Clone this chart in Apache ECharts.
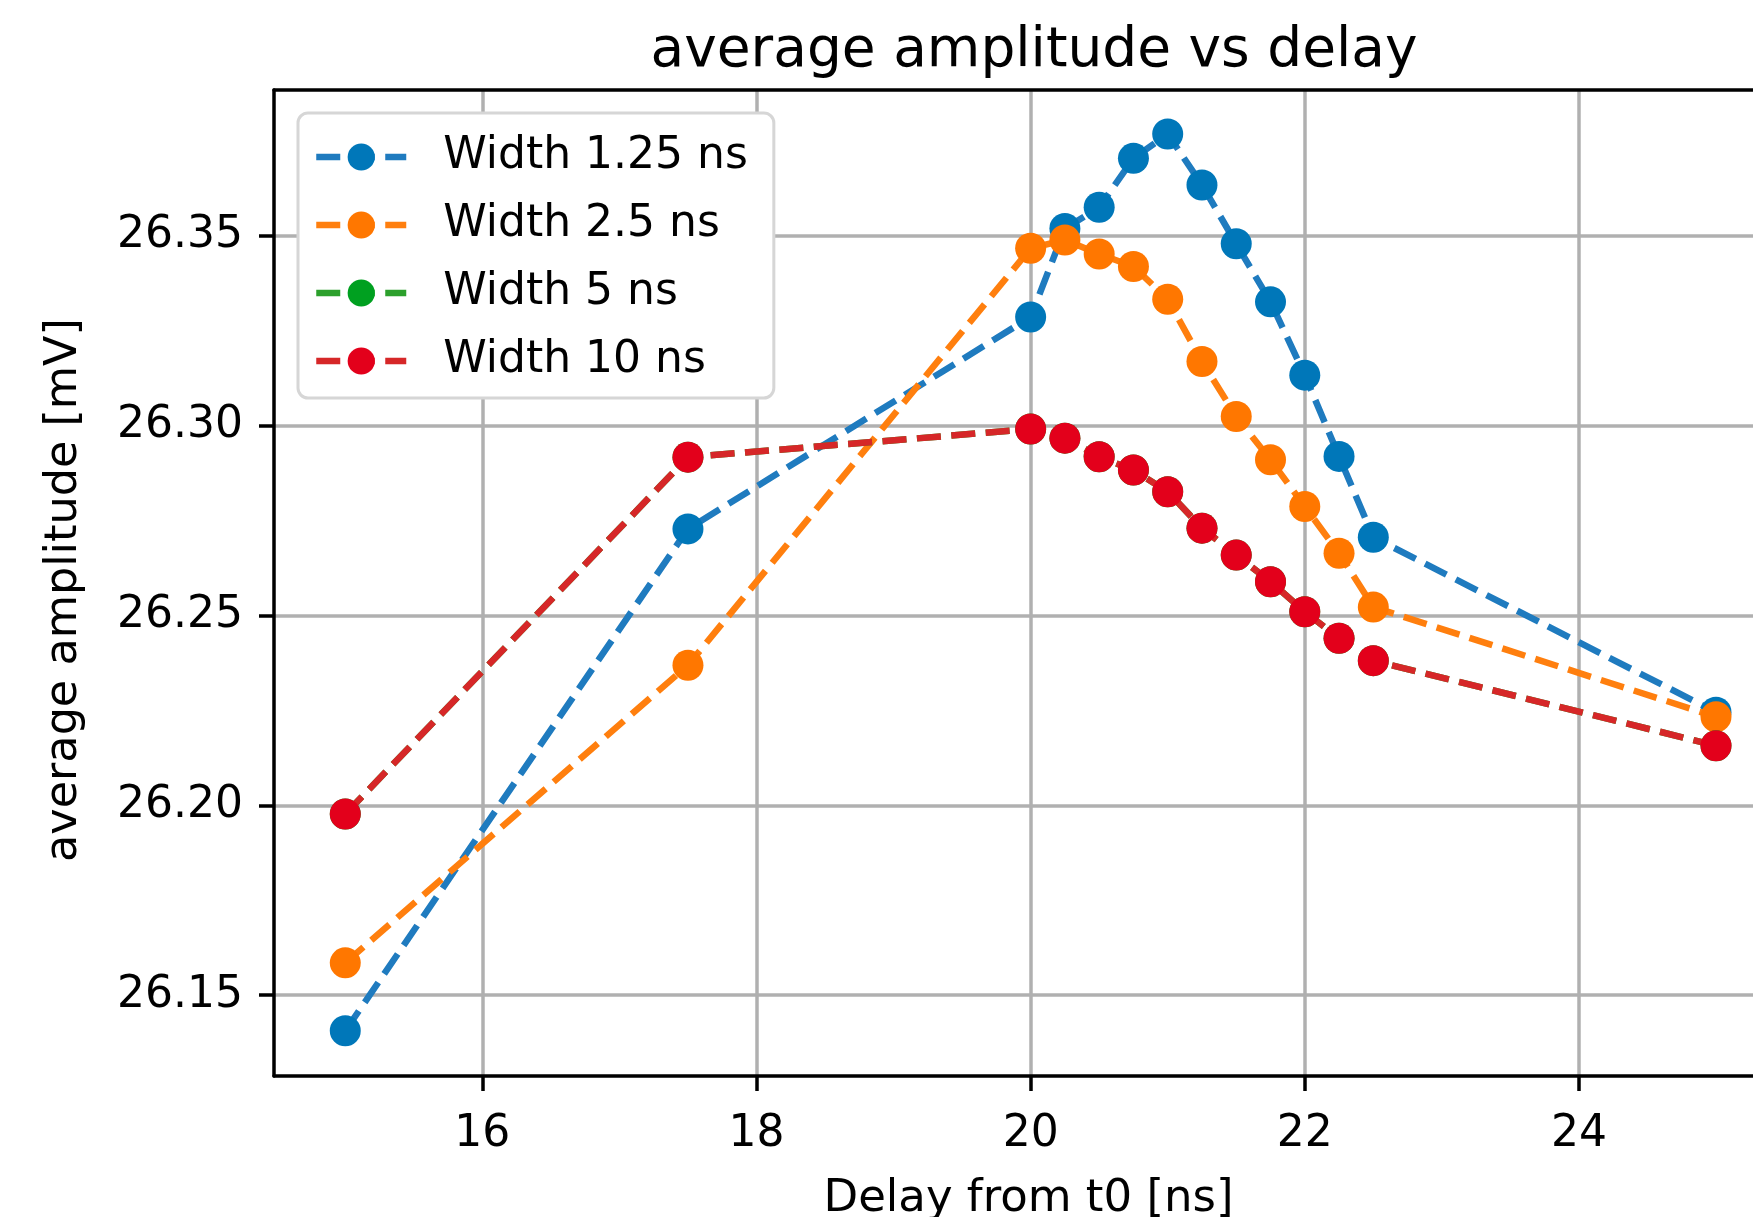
<!DOCTYPE html>
<html>
<head>
<meta charset="utf-8">
<script src="https://cdn.jsdelivr.net/npm/echarts@6/dist/echarts.min.js"></script>
<style>
html, body { margin: 0; padding: 0; background: #fff; }
#chart_view { width: 1753px; height: 1217px; }
</style>
</head>
<body>
<div id="chart_view"></div>
<script>
// delay values (ns) shared by every series
const delays = [15, 17.5, 20, 20.25, 20.5, 20.75, 21, 21.25, 21.5, 21.75, 22, 22.25, 22.5, 25];

const width_1_25 = [26.1406, 26.2728, 26.3286, 26.3519, 26.3575, 26.3704, 26.3768, 26.3634, 26.3479, 26.3326, 26.3133, 26.2919, 26.2706, 26.2245];
const width_2_5 = [26.1585, 26.2369, 26.3467, 26.3489, 26.3452, 26.3419, 26.3333, 26.3169, 26.3024, 26.2910, 26.2787, 26.2664, 26.2522, 26.2233];
// width 5 ns sits exactly under the 10 ns curve
const width_5 = [26.1977, 26.2917, 26.2991, 26.2967, 26.2918, 26.2883, 26.2826, 26.2730, 26.2659, 26.2589, 26.2510, 26.2440, 26.2381, 26.2157];
const width_10 = [26.1977, 26.2917, 26.2991, 26.2967, 26.2918, 26.2883, 26.2826, 26.2730, 26.2659, 26.2589, 26.2510, 26.2440, 26.2381, 26.2157];

const series_names = ['Width 1.25 ns', 'Width 2.5 ns', 'Width 5 ns', 'Width 10 ns'];
const x_ticks = [16, 18, 20, 22, 24];
const y_ticks = [26.15, 26.20, 26.25, 26.30, 26.35];

const line_colors = ['#1f7bbf', '#ff7f0e', '#2ca02c', '#d62728'];
const dot_colors = ['#0077b9', '#ff7700', '#00a020', '#e3001b'];
const font = 'DejaVu Sans';
const dash = [24, 10.5];

// axis limits (plot is cut at the right edge of the picture)
const x_min = 14.48, x_max = 25.27;
const y_min = 26.1287, y_max = 26.3884;

function pairs(values) {
	return delays.map((d, i) => [d, values[i]]);
}

function make_series(name, values, idx) {
	return {
		name: name,
		type: 'line',
		data: pairs(values),
		symbol: 'circle',
		symbolSize: 31,
		z: 2 + idx,
		lineStyle: {
			color: line_colors[idx],
			width: 6.5,
			type: dash
		},
		itemStyle: {
			color: dot_colors[idx]
		},
		emphasis: { disabled: true }
	};
}

const all_values = [width_1_25, width_2_5, width_5, width_10];

let chart_view = echarts.init(document.getElementById('chart_view'), null, { renderer: 'canvas' });

let chart_options = {
	animation: false,
	backgroundColor: '#fff',
	title: {
		text: 'average amplitude vs delay',
		left: 1029,
		top: 19,
		textAlign: 'center',
		textStyle: { fontFamily: font, fontSize: 55, fontWeight: 'normal', color: '#000' }
	},
	grid: {
		left: 274,
		top: 90,
		right: 0,
		bottom: 141,
		show: false,
		containLabel: false,
		outerBoundsMode: 'none'
	},
	legend: {
		data: series_names,
		orient: 'vertical',
		left: 298,
		top: 113,
		padding: [22, 26, 15, 15],
		itemWidth: 90,
		itemHeight: 34,
		itemGap: 24,
		backgroundColor: '#fff',
		borderColor: '#d6d6d6',
		borderWidth: 3,
		borderRadius: 10,
		lineStyle: { width: 6.5, type: dash },
		textStyle: { fontFamily: font, fontSize: 44, color: '#000', padding: [0, 0, 0, 32] }
	},
	xAxis: [{
		type: 'value',
		min: x_min,
		max: x_max,
		name: 'Delay from t0 [ns]',
		nameLocation: 'middle',
		nameGap: 101,
		nameTextStyle: { fontFamily: font, fontSize: 45, color: '#000', padding: [0, 0, 0, 30] },
		axisLine: { show: true, lineStyle: { color: '#000', width: 3.5 } },
		axisTick: { show: true, length: 15, customValues: x_ticks, lineStyle: { color: '#000', width: 3.5 } },
		axisLabel: {
			customValues: x_ticks,
			margin: 37,
			fontFamily: font,
			fontSize: 44,
			color: '#000',
			formatter: v => String(v)
		},
		splitLine: { show: true, lineStyle: { color: '#b0b0b0', width: 3.5 } }
	}, {
		// top spine only
		type: 'value',
		position: 'top',
		min: x_min,
		max: x_max,
		axisLine: { show: true, onZero: false, lineStyle: { color: '#000', width: 3.5 } },
		axisTick: { show: false },
		axisLabel: { show: false },
		splitLine: { show: false }
	}],
	yAxis: {
		type: 'value',
		min: y_min,
		max: y_max,
		name: 'average amplitude [mV]',
		nameLocation: 'middle',
		nameGap: 187,
		nameTextStyle: { fontFamily: font, fontSize: 44.5, color: '#000', padding: [0, 14, 0, 0] },
		axisLine: { show: true, lineStyle: { color: '#000', width: 3.5 } },
		axisTick: { show: true, length: 15, customValues: y_ticks, lineStyle: { color: '#000', width: 3.5 } },
		axisLabel: {
			customValues: y_ticks,
			margin: 31,
			fontFamily: font,
			fontSize: 44,
			color: '#000',
			formatter: v => v.toFixed(2)
		},
		splitLine: { show: true, lineStyle: { color: '#b0b0b0', width: 3.5 } }
	},
	series: series_names.map((name, i) => make_series(name, all_values[i], i))
};

chart_view.setOption(chart_options);
</script>
</body>
</html>
